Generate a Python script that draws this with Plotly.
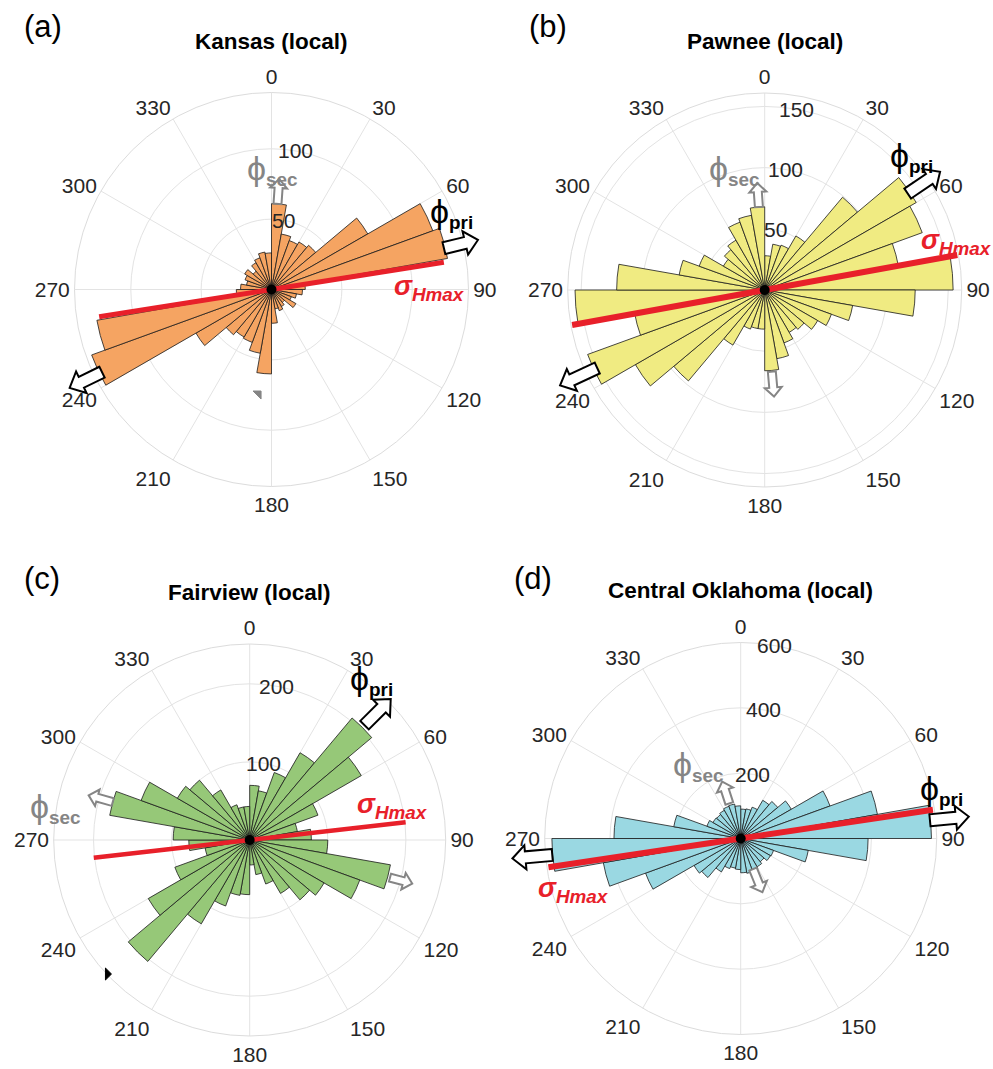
import math
import plotly.graph_objects as go

W, H = 993, 1069

# 10-degree azimuth bins (start of each bin) and their centres
BIN_STARTS = list(range(0, 360, 10))
BIN_CENTERS = [b + 5 for b in BIN_STARTS]
ANGLE_TICKS = list(range(0, 360, 30))

# Counts per 10-degree bin, starting at 0-10 and going clockwise
kansas = [61, 40, 37, 39, 41, 79, 122, 127, 24, 22, 18, 15, 20, 12, 14, 16, 14, 24,
          60, 46, 40, 39, 42, 62, 136, 126, 25, 22, 18, 20, 22, 17, 22, 24, 27, 26]
pawnee = [28, 38, 39, 51, 99, 143, 137, 111, 154, 123, 73, 58, 50, 42, 40, 46, 57, 66,
          32, 32, 34, 52, 97, 122, 154, 108, 155, 121, 71, 57, 39, 43, 47, 59, 62, 68]
fairview = [70, 64, 92, 129, 204, 165, 93, 62, 79, 100, 183, 150, 110, 100, 79, 60, 45, 32,
            70, 72, 90, 124, 203, 150, 102, 58, 78, 98, 182, 148, 107, 100, 74, 48, 43, 43]
central_ok = [90, 92, 102, 135, 148, 179, 291, 425, 584, 390, 210, 107, 105, 93, 100, 105, 108, 105,
              95, 92, 98, 118, 156, 165, 310, 427, 578, 388, 208, 110, 98, 96, 100, 105, 107, 100]

FONT = "Liberation Sans, Arial, Helvetica, sans-serif"
RED = "#E8202A"
GREY = "#858585"

panels = [
    dict(letter="(a)", letter_xy=(22, 27), title="Kansas (local)", values=kansas, color="#F5A462",
         rmax=140, rticks=[50, 100], center=(271.5, 289.5), R=197,
         shmax=81, shmax_len=124, shmax_w=5,
         pri=[(76.5, 126, 35), (244, 134, 36)], sec=[(4, 61, 25)],
         pri_lab=(66.8, 196), sec_lab=(0.7, 120), sh_lab=(89.5, 158),
         frags=[(187.8, 106.5, GREY, "ne")]),
    dict(letter="(b)", letter_xy=(527, 27), title="Pawnee (local)", values=pawnee, color="#F0EB82",
         rmax=161, rticks=[50, 100, 150], center=(764.7, 290), R=197,
         shmax=79.7, shmax_len=160, shmax_w=6,
         pri=[(56, 141, 39), (245, 151, 41)], sec=[(356, 68, 24), (175, 67, 25)],
         pri_lab=(47.7, 199), sec_lab=(345.7, 124), sh_lab=(76, 198),
         frags=[]),
    dict(letter="(c)", letter_xy=(22, 578), title="Fairview (local)", values=fairview, color="#96C878",
         rmax=251, rticks=[100, 200], center=(249.7, 840), R=196,
         shmax=83.5, shmax_len=201, shmax_w=4.5,
         pri=[(45, 208, 37)], sec=[(285.5, 182, 25), (105, 186, 23)],
         pri_lab=(37.2, 201), sec_lab=(279.6, 197), sh_lab=(76.7, 147),
         frags=[(226.5, 194.7, "black", "right")]),
    dict(letter="(d)", letter_xy=(512, 578), title="Central Oklahoma (local)", values=central_ok,
         color="#9AD8E2", rmax=600, rticks=[200, 400, 600], center=(740.7, 838.5), R=196,
         shmax=81.5, shmax_len=595, shmax_w=6,
         pri=[(84.5, 582, 39), (265, 579, 40)], sec=[(342, 113, 23), (158, 101, 25)],
         pri_lab=(76.2, 207), sec_lab=(330, 84), sh_lab=(253, 175),
         frags=[]),
]


def px_point(p, theta, r_px):
    cx, cy = p["center"]
    t = math.radians(theta)
    return cx + r_px * math.sin(t), cy - r_px * math.cos(t)


def to_paper(x, y):
    return x / W, 1 - y / H


def polar_paper(p, theta, r_px):
    return to_paper(*px_point(p, theta, r_px))


def path_from_px(points):
    pts = [to_paper(x, y) for x, y in points]
    return "M " + " L ".join(f"{x:.5f},{y:.5f}" for x, y in pts) + " Z"


def block_arrow(p, theta, r0, length, shaft, head, head_len):
    # hollow block arrow pointing outward along azimuth theta
    r0_px = r0 / p["rmax"] * p["R"]
    t = math.radians(theta)
    ux, uy = math.sin(t), -math.cos(t)
    nx, ny = math.cos(t), math.sin(t)
    bx, by = px_point(p, theta, r0_px)
    tx, ty = px_point(p, theta, r0_px + length)
    hx, hy = tx - head_len * ux, ty - head_len * uy
    s, h = shaft / 2, head / 2
    pts = [(bx + s * nx, by + s * ny), (hx + s * nx, hy + s * ny), (hx + h * nx, hy + h * ny),
           (tx, ty), (hx - h * nx, hy - h * ny), (hx - s * nx, hy - s * ny),
           (bx - s * nx, by - s * ny)]
    return path_from_px(pts)


def label(x, y, text, size, color, xanchor="center"):
    return dict(x=x, y=y, xref="paper", yref="paper", text=text, showarrow=False,
                xanchor=xanchor, yanchor="middle",
                font=dict(family=FONT, size=size, color=color))


PHI = '<span style="font-size:34px">ϕ</span>'

fig = go.Figure()
shapes = []
annotations = []

for i, p in enumerate(panels, start=1):
    pid = "polar" if i == 1 else f"polar{i}"
    cx, cy = p["center"]
    R = p["R"]
    xd = [(cx - R) / W, (cx + R) / W]
    yd = [1 - (cy + R) / H, 1 - (cy - R) / H]

    fig.add_trace(go.Barpolar(
        r=p["values"], theta=BIN_CENTERS, width=[10] * 36,
        marker=dict(color=p["color"], line=dict(color="#1a1a1a", width=0.8)),
        subplot=pid, showlegend=False, hoverinfo="skip"))

    a = p["shmax"]
    L = p["shmax_len"]
    fig.add_trace(go.Scatterpolar(
        r=[L, 0, L], theta=[a, a, a + 180], mode="lines",
        line=dict(color=RED, width=p["shmax_w"]), subplot=pid, showlegend=False,
        hoverinfo="skip"))

    fig.add_trace(go.Scatterpolar(
        r=[0], theta=[0], mode="markers", marker=dict(color="black", size=10),
        subplot=pid, showlegend=False, hoverinfo="skip"))

    fig.layout[pid] = dict(
        domain=dict(x=xd, y=yd), bgcolor="white",
        angularaxis=dict(direction="clockwise", rotation=90, tickmode="array",
                         tickvals=ANGLE_TICKS, ticktext=[str(v) for v in ANGLE_TICKS],
                         ticks="", showline=True, linecolor="#DCDCDC", linewidth=1,
                         gridcolor="#E3E3E3", gridwidth=1,
                         tickfont=dict(family=FONT, size=21, color="#262626")),
        radialaxis=dict(range=[0, p["rmax"]], tickmode="array", tickvals=p["rticks"],
                        showticklabels=False, ticks="", showline=False,
                        gridcolor="#E3E3E3", gridwidth=1))

    # radial tick labels, placed along the 10-degree azimuth
    for tv in p["rticks"]:
        x, y = polar_paper(p, 10, tv / p["rmax"] * R)
        annotations.append(label(x, y, str(tv), 21, "#262626"))

    # title and panel letter
    tx, ty = to_paper(cx, cy - 248)
    annotations.append(label(tx, ty, f"<b>{p['title']}</b>", 22.5, "black"))
    lx, ly = to_paper(*p["letter_xy"])
    annotations.append(label(lx, ly, p["letter"], 31, "black", xanchor="left"))

    # principal / secondary direction arrows
    for th, r0, ln in p["pri"]:
        shapes.append(dict(type="path", xref="paper", yref="paper",
                           path=block_arrow(p, th, r0, ln, 12, 24, 13),
                           fillcolor="white", line=dict(color="black", width=2)))
    for th, r0, ln in p["sec"]:
        shapes.append(dict(type="path", xref="paper", yref="paper",
                           path=block_arrow(p, th, r0, ln, 8, 17, 9),
                           fillcolor="white", line=dict(color=GREY, width=2)))

    for th, rp, col, kind in p["frags"]:
        fx, fy = px_point(p, th, rp)
        if kind == "ne":
            pts = [(fx - 4, fy - 4), (fx + 4, fy - 4), (fx + 4, fy + 4)]
        else:
            pts = [(fx - 3, fy - 6), (fx + 3, fy), (fx - 3, fy + 6)]
        shapes.append(dict(type="path", xref="paper", yref="paper", path=path_from_px(pts),
                           fillcolor=col, line=dict(color=col, width=1)))

    # direction labels
    x, y = polar_paper(p, *p["pri_lab"])
    annotations.append(label(x, y, PHI + "<sub><b>pri</b></sub>", 27, "black"))
    x, y = polar_paper(p, *p["sec_lab"])
    annotations.append(label(x, y, PHI + "<sub><b>sec</b></sub>", 27, GREY))
    x, y = polar_paper(p, *p["sh_lab"])
    annotations.append(label(x, y, "<b><i>σ<sub>Hmax</sub></i></b>", 27, RED))

fig.update_layout(width=W, height=H, margin=dict(l=0, r=0, t=0, b=0),
                  paper_bgcolor="white", plot_bgcolor="white",
                  shapes=shapes, annotations=annotations, font=dict(family=FONT))

fig.write_html("out.html")
